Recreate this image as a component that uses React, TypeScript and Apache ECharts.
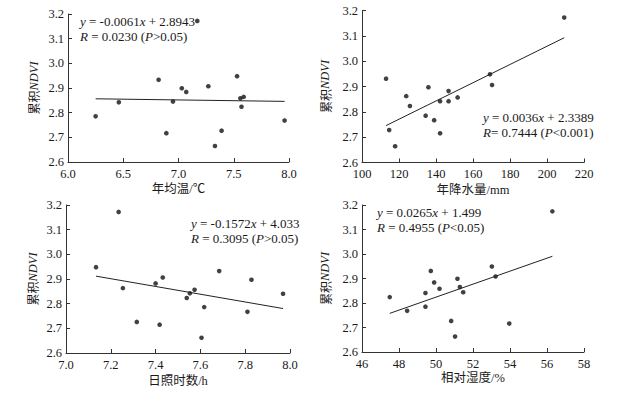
import React, { useEffect, useRef } from "react";
import * as echarts from "echarts";

// ---- data ----
const tempX = [6.25, 6.46, 6.82, 6.89, 6.95, 7.03, 7.07, 7.17, 7.27, 7.33, 7.39, 7.53, 7.56, 7.59, 7.57, 7.96];
const tempY = [2.785, 2.842, 2.933, 2.717, 2.845, 2.899, 2.884, 3.172, 2.907, 2.665, 2.727, 2.948, 2.858, 2.864, 2.824, 2.768];
const precX = [113.0, 114.7, 117.9, 123.9, 125.9, 134.4, 135.9, 139.0, 142.2, 142.2, 146.8, 146.8, 151.7, 169.2, 170.3, 209.3];
const precY = [2.931, 2.728, 2.664, 2.862, 2.823, 2.785, 2.897, 2.767, 2.842, 2.715, 2.882, 2.842, 2.857, 2.948, 2.906, 3.172];
const sunX = [7.134, 7.235, 7.254, 7.316, 7.4, 7.418, 7.432, 7.539, 7.553, 7.574, 7.605, 7.617, 7.684, 7.81, 7.828, 7.969];
const sunY = [2.948, 3.172, 2.863, 2.726, 2.882, 2.715, 2.906, 2.823, 2.842, 2.856, 2.662, 2.786, 2.932, 2.767, 2.897, 2.84];
const rhX = [47.5, 48.44, 49.43, 49.43, 49.72, 49.9, 50.19, 50.82, 51.03, 51.16, 51.29, 51.47, 53.02, 53.22, 53.96, 56.29];
const rhY = [2.824, 2.768, 2.841, 2.785, 2.931, 2.884, 2.858, 2.727, 2.663, 2.899, 2.865, 2.844, 2.949, 2.908, 2.716, 3.174];

const slopes = [-0.0061, 0.0036, -0.1572, 0.0265];
const intercepts = [2.8943, 2.3389, 4.033, 1.499];
const eqTexts = [
  "{i|y} = -0.0061{i|x} + 2.8943",
  "{i|y} = 0.0036{i|x} + 2.3389",
  "{i|y} = -0.1572{i|x} + 4.033",
  "{i|y} = 0.0265{i|x} + 1.499",
];
const rTexts = [
  "{i|R} = 0.0230 ({i|P}>0.05)",
  "{i|R}= 0.7444 ({i|P}<0.001)",
  "{i|R} = 0.3095 ({i|P}>0.05)",
  "{i|R} = 0.4955 ({i|P}<0.05)",
];
const xNames = ["年均温/℃", "年降水量/mm", "日照时数/h", "相对湿度/%"];
const yNameCjk = "累积";
const yNameLatin = "NDVI";
const xMins = [6, 100, 7, 46];
const xMaxs = [8, 220, 8, 58];
const xIntervals = [0.5, 20, 0.2, 2];
const xDecimals = [1, 0, 1, 0];
const yMin = 2.6;
const yMax = 3.2;
const yInterval = 0.1;

const SERIF = "'Liberation Serif', 'Times New Roman', serif";
const CJK = "'Liberation Serif', 'Noto Sans CJK SC', serif";
const FS = 12.5;
const TXT = "#1a1a1a";

const grids = [
  { left: 68, top: 14, width: 221, height: 148 },
  { left: 362, top: 10.5, width: 222, height: 152 },
  { left: 66, top: 205, width: 224, height: 148 },
  { left: 362, top: 205, width: 222, height: 147 },
];
const xNameGaps = [21, 21, 22, 19.5];
const yNameGaps = [28, 30.5, 27, 30.5];
const eqPos = [
  { x: 80, y: 21 },
  { x: 483, y: 117 },
  { x: 191, y: 223 },
  { x: 377, y: 212 },
];

export default function App() {
  const ref = useRef<HTMLDivElement>(null);
  useEffect(() => {
    if (!ref.current) return;
    const chart = echarts.init(ref.current, null, { renderer: "svg" });
    const xs = [tempX, precX, sunX, rhX];
    const ys = [tempY, precY, sunY, rhY];

    const axisLine = { show: true, lineStyle: { color: "#333", width: 1 } };
    const axisTick = { show: true, inside: true, length: 4, lineStyle: { color: "#333", width: 1 } };

    const xAxis = grids.map((_, i) => ({
      type: "value",
      gridIndex: i,
      min: xMins[i],
      max: xMaxs[i],
      interval: xIntervals[i],
      axisLine,
      axisTick,
      splitLine: { show: false },
      axisLabel: {
        color: TXT,
        fontFamily: SERIF,
        fontSize: FS,
        margin: 5,
        formatter: (v: number) => v.toFixed(xDecimals[i]),
      },
      name: xNames[i],
      nameLocation: "middle",
      nameGap: xNameGaps[i],
      nameTextStyle: { color: TXT, fontFamily: CJK, fontSize: FS },
    }));

    const yAxis = grids.map((_, i) => ({
      type: "value",
      gridIndex: i,
      min: yMin,
      max: yMax,
      interval: yInterval,
      axisLine,
      axisTick,
      splitLine: { show: false },
      axisLabel: {
        color: TXT,
        fontFamily: SERIF,
        fontSize: FS,
        margin: 4,
        formatter: (v: number) => v.toFixed(1),
      },
      name: `{a|${yNameCjk}}{b|${yNameLatin}}`,
      nameLocation: "middle",
      nameGap: yNameGaps[i],
      nameTextStyle: {
        color: TXT,
        fontSize: FS,
        rich: {
          a: { fontFamily: "'Noto Sans CJK SC', serif", fontSize: FS - 0.5, color: TXT },
          b: { fontFamily: SERIF, fontStyle: "italic", fontSize: FS, color: TXT },
        },
      },
    }));

    const series: any[] = [];
    grids.forEach((_, i) => {
      const x = xs[i];
      const y = ys[i];
      series.push({
        type: "scatter",
        xAxisIndex: i,
        yAxisIndex: i,
        symbol: "circle",
        symbolSize: 4.6,
        itemStyle: { color: "#111" },
        data: x.map((v, k) => [v, y[k]]),
      });
      const lo = Math.min(...x);
      const hi = Math.max(...x);
      series.push({
        type: "line",
        xAxisIndex: i,
        yAxisIndex: i,
        symbol: "none",
        lineStyle: { color: "#222", width: 1 },
        data: [
          [lo, slopes[i] * lo + intercepts[i]],
          [hi, slopes[i] * hi + intercepts[i]],
        ],
      });
    });

    const graphic: any[] = [];
    eqPos.forEach((p, i) => {
      const rich = { i: { fontStyle: "italic", fontFamily: SERIF, fontSize: FS + 0.5, fill: TXT } };
      graphic.push({
        type: "text",
        x: p.x,
        y: p.y,
        style: {
          text: eqTexts[i],
          rich,
          fontFamily: SERIF,
          fontSize: FS + 0.5,
          fill: TXT,
          verticalAlign: "middle",
          align: "left",
        },
      });
      graphic.push({
        type: "text",
        x: p.x,
        y: p.y + 15,
        style: {
          text: rTexts[i],
          rich,
          fontFamily: SERIF,
          fontSize: FS + 0.5,
          fill: TXT,
          verticalAlign: "middle",
          align: "left",
        },
      });
    });

    chart.setOption({
      animation: false,
      backgroundColor: "#fff",
      grid: grids.map((g) => ({ ...g, containLabel: false })),
      xAxis,
      yAxis,
      series,
      graphic,
    });
    return () => chart.dispose();
  }, []);
  return (
    <div
      ref={ref}
      style={{ position: "fixed", left: 0, top: 0, width: 629, height: 397, background: "#fff" }}
    />
  );
}
